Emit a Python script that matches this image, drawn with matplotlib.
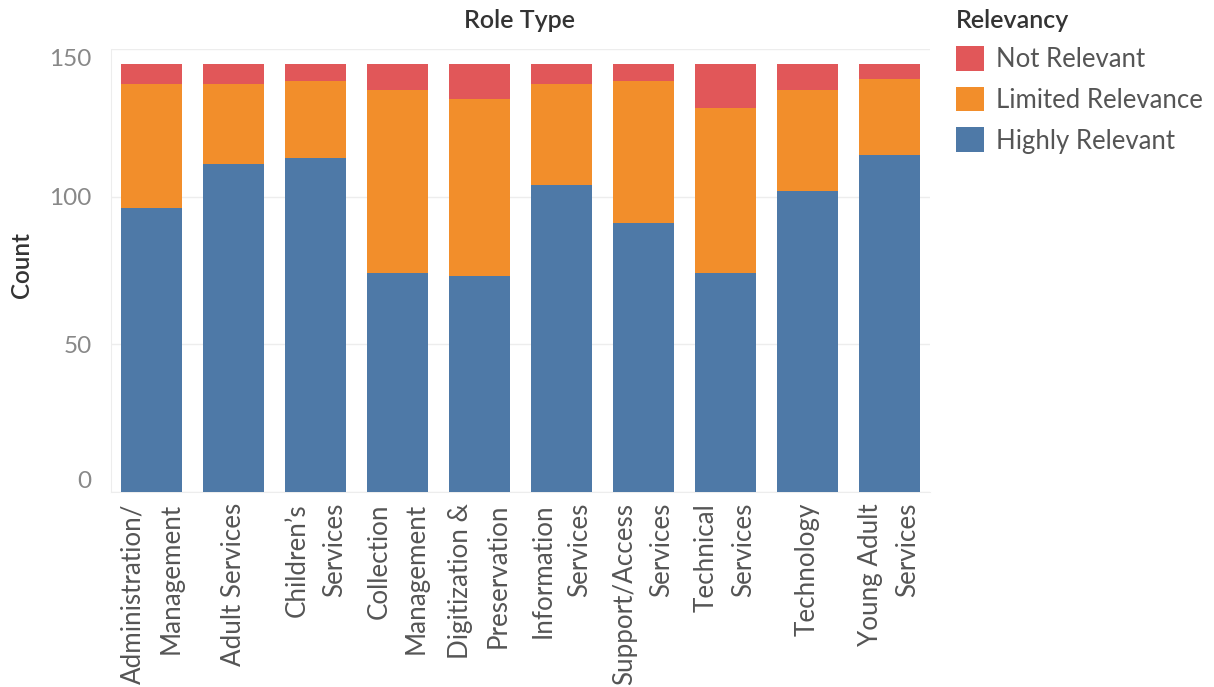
import matplotlib
matplotlib.use("Agg")
import matplotlib.pyplot as plt
from matplotlib.patches import Patch
import numpy as np

plt.rcParams['font.family'] = ['Lato', 'DejaVu Sans']

categories = [
    "Administration/\nManagement", "Adult Services", "Children\u2019s\nServices",
    "Collection\nManagement", "Digitization &\nPreservation", "Information\nServices",
    "Support/Access\nServices", "Technical\nServices", "Technology",
    "Young Adult\nServices",
]
highly_relevant = [96, 111, 113, 74, 73, 104, 91, 74, 102, 114]
limited_relevance = [42, 27, 26, 62, 60, 34, 48, 56, 34, 26]
not_relevant = [7, 7, 6, 9, 12, 7, 6, 15, 9, 5]

series_names = ["Highly Relevant", "Limited Relevance", "Not Relevant"]
colors = ["#4e79a7", "#f28e2b", "#e15759"]
y_ticks = [0, 50, 100, 150]

W, H = 1214, 687
fig = plt.figure(figsize=(W / 100, H / 100), dpi=100)
ax = fig.add_axes([111 / W, 1 - 492 / H, (930 - 111) / W, (492 - 49) / H])

x = np.arange(len(categories))
bottom = np.zeros(len(categories))
for vals, c in zip([highly_relevant, limited_relevance, not_relevant], colors):
    ax.bar(x, vals, width=0.745, bottom=bottom, color=c, zorder=3, linewidth=0)
    bottom += np.array(vals)

ax.set_xlim(-0.5, len(categories) - 0.5)
ax.set_ylim(0, 150)
ax.set_yticks(y_ticks)
ax.yaxis.grid(True, color="#ededed", linewidth=1.0, zorder=0)
for s in ["top", "right"]:
    ax.spines[s].set_visible(False)
ax.spines["left"].set_color("#ededed")
ax.spines["bottom"].set_color("#ededed")
ax.tick_params(axis="y", length=0, pad=14, labelsize=17.5, labelcolor="#888888")
ax.tick_params(axis="x", length=0, pad=8)
ax.set_xticks(x)
ax.set_xticklabels(categories, rotation=90, ha="center", va="top",
                   multialignment="right", fontsize=18.7, color="#555555",
                   linespacing=1.62)

# keep the end labels of the value axis inside the plotting range
ylabels = ax.get_yticklabels()
ylabels[0].set_va("bottom")
ylabels[-1].set_va("top")

fig.text(21 / W, 1 - 265 / H, "Count", rotation=90, ha="center", va="center",
         fontsize=17.5, color="#333333", fontweight="semibold")
fig.text(520 / W, 1 - 20 / H, "Role Type", ha="center", va="center",
         fontsize=18, color="#333333", fontweight="semibold")

handles = [Patch(facecolor=colors[i], edgecolor="none") for i in (2, 1, 0)]
labels = [series_names[i] for i in (2, 1, 0)]
leg = fig.legend(handles, labels, title="Relevancy", loc="upper left",
                 bbox_to_anchor=(951 / W, 1 - 4 / H), frameon=False,
                 fontsize=18.5, title_fontsize=18, handlelength=1.1,
                 handleheight=1.1, labelspacing=0.57, handletextpad=0.45,
                 borderaxespad=0, borderpad=0.2)
leg._legend_box.align = "left"
leg._legend_box.sep = 10
leg.get_title().set_color("#333333")
leg.get_title().set_fontweight("semibold")
for t in leg.get_texts():
    t.set_color("#555555")

fig.savefig("out.png", dpi=100)
